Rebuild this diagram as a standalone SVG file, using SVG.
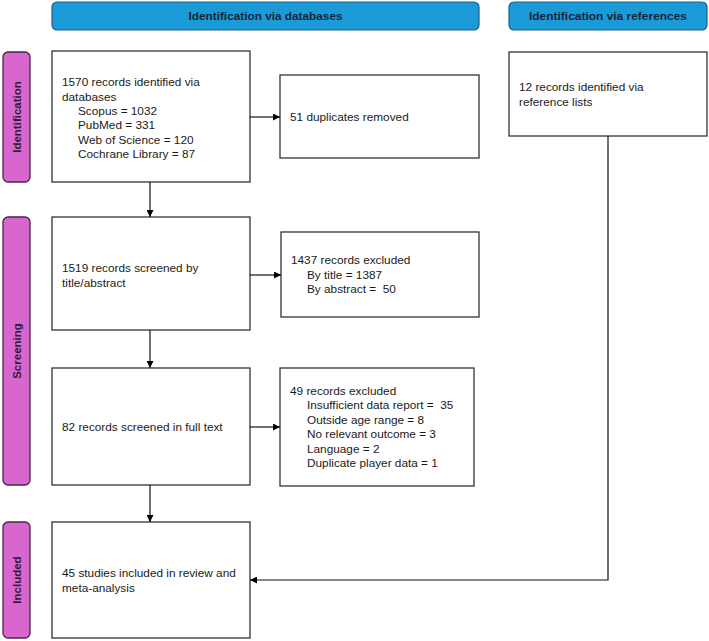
<svg xmlns="http://www.w3.org/2000/svg" width="709" height="641" viewBox="0 0 709 641">
<defs>
<marker id="ah" viewBox="0 0 10 10" refX="10" refY="5" markerWidth="7" markerHeight="7" markerUnits="userSpaceOnUse" orient="auto">
<path d="M0,0 L10,5 L0,10 z" fill="#000"/>
</marker>
<style>
.hdr{fill:#1a9ad7;stroke:#1d5f86;stroke-width:1.2}
.hdrt{font-family:"Liberation Sans",Arial,sans-serif;font-weight:bold;font-size:11px;fill:#16263a;text-anchor:middle}
.side{fill:#d866cf;stroke:#4a2444;stroke-width:1.3}
.sidet{font-family:"Liberation Sans",Arial,sans-serif;font-weight:bold;font-size:11.5px;fill:#2e1a33;text-anchor:middle}
.box{fill:#fff;stroke:#333;stroke-width:1.3}
.t{font-family:"Liberation Sans",Arial,sans-serif;font-size:11.8px;fill:#1a1a1a;white-space:pre}
.c{fill:none;stroke:#111;stroke-width:1.2}
</style>
</defs>
<g id="header-databases">
<rect class="hdr" x="52" y="2" width="427" height="28" rx="5"/>
<text class="hdrt" x="265.5" y="20" textLength="154" lengthAdjust="spacingAndGlyphs">Identification via databases</text>
</g>
<g id="header-references">
<rect class="hdr" x="509" y="2" width="198" height="28" rx="5"/>
<text class="hdrt" x="608" y="20" textLength="158" lengthAdjust="spacingAndGlyphs">Identification via references</text>
</g>
<g id="side-identification">
<rect class="side" x="3" y="52" width="27" height="130" rx="5"/>
<text class="sidet" transform="translate(20.5,117) rotate(-90)">Identification</text>
</g>
<g id="side-screening">
<rect class="side" x="3" y="217" width="27" height="268" rx="5"/>
<text class="sidet" transform="translate(20.5,351) rotate(-90)">Screening</text>
</g>
<g id="side-included">
<rect class="side" x="3" y="522" width="27" height="116" rx="5"/>
<text class="sidet" transform="translate(20.5,580) rotate(-90)">Included</text>
</g>
<g id="box-identified">
<rect class="box" x="52" y="51" width="198" height="131"/>
<text class="t" x="62" y="86">1570 records identified via</text>
<text class="t" x="62" y="100.5">databases</text>
<text class="t" x="78" y="115">Scopus = 1032</text>
<text class="t" x="78" y="129">PubMed = 331</text>
<text class="t" x="78" y="143.5">Web of Science = 120</text>
<text class="t" x="78" y="157.5">Cochrane Library = 87</text>
</g>
<g id="box-duplicates">
<rect class="box" x="280" y="75" width="199" height="83"/>
<text class="t" x="290" y="121">51 duplicates removed</text>
</g>
<g id="box-references">
<rect class="box" x="509" y="52" width="198" height="84"/>
<text class="t" x="519" y="91">12 records identified via</text>
<text class="t" x="519" y="105.5">reference lists</text>
</g>
<g id="box-screened">
<rect class="box" x="52" y="217" width="198" height="113"/>
<text class="t" x="62" y="272">1519 records screened by</text>
<text class="t" x="62" y="286.5">title/abstract</text>
</g>
<g id="box-excluded1">
<rect class="box" x="281" y="232" width="198" height="85"/>
<text class="t" x="291" y="264">1437 records excluded</text>
<text class="t" x="307" y="278.5">By title = 1387</text>
<text class="t" x="307" y="293">By abstract =  50</text>
</g>
<g id="box-fulltext">
<rect class="box" x="52" y="368" width="198" height="117"/>
<text class="t" x="62" y="431">82 records screened in full text</text>
</g>
<g id="box-excluded2">
<rect class="box" x="280" y="368" width="194" height="118"/>
<text class="t" x="290" y="394.5">49 records excluded</text>
<text class="t" x="307" y="409">Insufficient data report =  35</text>
<text class="t" x="307" y="423.5">Outside age range = 8</text>
<text class="t" x="307" y="438">No relevant outcome = 3</text>
<text class="t" x="307" y="452.5">Language = 2</text>
<text class="t" x="307" y="467">Duplicate player data = 1</text>
</g>
<g id="box-included">
<rect class="box" x="52" y="522" width="198" height="116"/>
<text class="t" x="62" y="577">45 studies included in review and</text>
<text class="t" x="62" y="591.5">meta-analysis</text>
</g>
<g id="connectors">
<path class="c" d="M250,117 H280" marker-end="url(#ah)"/>
<path class="c" d="M150,182 V217" marker-end="url(#ah)"/>
<path class="c" d="M250,275 H281" marker-end="url(#ah)"/>
<path class="c" d="M150,330 V368" marker-end="url(#ah)"/>
<path class="c" d="M250,427 H280" marker-end="url(#ah)"/>
<path class="c" d="M150,485 V522" marker-end="url(#ah)"/>
<path class="c" d="M608,136 V580 H250" marker-end="url(#ah)"/>
</g>
</svg>
